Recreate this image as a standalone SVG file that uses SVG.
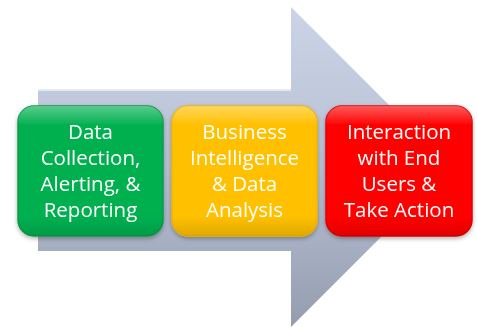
<svg xmlns="http://www.w3.org/2000/svg" width="477" height="327" viewBox="0 0 477 327">
<defs>
<linearGradient id="arr" x1="0" y1="0" x2="0" y2="1">
<stop offset="0" stop-color="#cbd3e7"/>
<stop offset="0.5" stop-color="#b8c0d4"/>
<stop offset="1" stop-color="#949dae"/>
</linearGradient>
<linearGradient id="gloss" x1="0" y1="0" x2="0" y2="1">
<stop offset="0" stop-color="#ffffff" stop-opacity="0.35"/>
<stop offset="0.15" stop-color="#ffffff" stop-opacity="0"/>
<stop offset="0.85" stop-color="#000000" stop-opacity="0"/>
<stop offset="1" stop-color="#000000" stop-opacity="0.12"/>
</linearGradient>
<filter id="sh" x="-10%" y="-10%" width="120%" height="125%">
<feDropShadow dx="0" dy="2" stdDeviation="2" flood-color="#000" flood-opacity="0.3"/>
</filter>
</defs>
<style>
.t{font-family:"Open Sans","Liberation Sans",sans-serif;font-size:20.5px;fill:#ffffff;text-anchor:middle}
.b{stroke-width:1.5}
</style>
<g id="arrow">
<polygon points="38,89 291,89 291,7 451,167 291,327 291,251 38,251" fill="url(#arr)"/>
<line x1="38" y1="90" x2="291" y2="90" stroke="#e4e9f2" stroke-width="2"/>
</g>
<g id="node1" filter="url(#sh)">
<rect x="18" y="106" width="145" height="130" rx="16" fill="#00b050" stroke="#0c9a48" class="b"/>
<rect x="18" y="106" width="145" height="130" rx="16" fill="url(#gloss)"/>
<text class="t" x="90.5" y="139">Data</text>
<text class="t" x="90.5" y="165">Collection,</text>
<text class="t" x="90.5" y="191">Alerting, &amp;</text>
<text class="t" x="90.5" y="217">Reporting</text>
</g>
<g id="node2" filter="url(#sh)">
<rect x="172" y="106" width="145" height="130" rx="16" fill="#ffc000" stroke="#f2b400" class="b"/>
<rect x="172" y="106" width="145" height="130" rx="16" fill="url(#gloss)"/>
<text class="t" x="244.5" y="139" fill="#fffbe8">Business</text>
<text class="t" x="244.5" y="165">Intelligence</text>
<text class="t" x="244.5" y="191">&amp; Data</text>
<text class="t" x="244.5" y="217">Analysis</text>
</g>
<g id="node3" filter="url(#sh)">
<rect x="326" y="106" width="146" height="130" rx="16" fill="#ff0000" stroke="#e00000" class="b"/>
<rect x="326" y="106" width="146" height="130" rx="16" fill="url(#gloss)"/>
<text class="t" x="399" y="139">Interaction</text>
<text class="t" x="399" y="165">with End</text>
<text class="t" x="399" y="191">Users &amp;</text>
<text class="t" x="399" y="217">Take Action</text>
</g>
<g id="connectors"/>
</svg>
